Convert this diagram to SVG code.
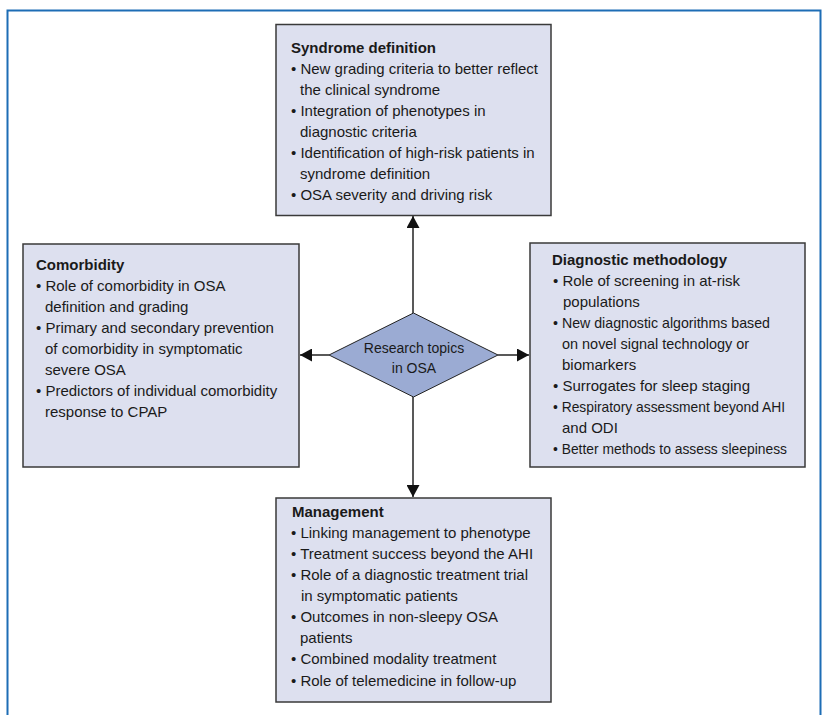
<svg xmlns="http://www.w3.org/2000/svg" width="822" height="715" viewBox="0 0 822 715">
<style>
.frame{fill:none;stroke:#1d6db5;stroke-width:2}
.box{fill:#dde0ef;stroke:#3a3a3a;stroke-width:1.5}
.dia{fill:#9babd3;stroke:#222;stroke-width:1}
.t{font-family:"Liberation Sans",Arial,sans-serif;font-size:15px;fill:#1a1a1a}
.h{font-weight:bold}
.c{font-family:"Liberation Sans",Arial,sans-serif;font-size:14px;fill:#1a1a1a;text-anchor:middle}
.con{stroke:#222;stroke-width:1.5;fill:none}
</style>
<defs>
<marker id="ah" viewBox="0 0 12 13" refX="12" refY="6.5" markerWidth="12" markerHeight="13" markerUnits="userSpaceOnUse" orient="auto">
<path d="M0,0 L12,6.5 L0,13 z" fill="#111"/>
</marker>
</defs>
<rect width="822" height="715" fill="#fff"/>
<path class="frame" d="M7.5,715 V10.5 H820.5 V715"/>

<g id="connectors">
<line class="con" x1="413" y1="313" x2="413" y2="216" marker-end="url(#ah)"/>
<line class="con" x1="413" y1="397" x2="413" y2="497" marker-end="url(#ah)"/>
<line class="con" x1="329" y1="355" x2="300" y2="355" marker-end="url(#ah)"/>
<line class="con" x1="498" y1="355" x2="529" y2="355" marker-end="url(#ah)"/>
</g>

<g id="syndrome">
<rect class="box" x="276" y="24.5" width="275" height="191"/>
<text class="t h" x="291" y="53">Syndrome definition</text>
<text class="t" x="291" y="74">• New grading criteria to better reflect</text>
<text class="t" x="300" y="95">the clinical syndrome</text>
<text class="t" x="291" y="116">• Integration of phenotypes in</text>
<text class="t" x="300" y="137">diagnostic criteria</text>
<text class="t" x="291" y="158">• Identification of high-risk patients in</text>
<text class="t" x="300" y="179">syndrome definition</text>
<text class="t" x="291" y="200">• OSA severity and driving risk</text>
</g>

<g id="comorbidity">
<rect class="box" x="23" y="244" width="276" height="223"/>
<text class="t h" x="36" y="270">Comorbidity</text>
<text class="t" x="36" y="291">• Role of comorbidity in OSA</text>
<text class="t" x="45" y="312">definition and grading</text>
<text class="t" x="36" y="333">• Primary and secondary prevention</text>
<text class="t" x="45" y="354">of comorbidity in symptomatic</text>
<text class="t" x="45" y="375">severe OSA</text>
<text class="t" x="36" y="396">• Predictors of individual comorbidity</text>
<text class="t" x="45" y="417">response to CPAP</text>
</g>

<g id="diagnostic">
<rect class="box" x="530" y="243" width="275" height="224"/>
<text class="t h" x="552" y="265">Diagnostic methodology</text>
<text class="t" x="553" y="286">• Role of screening in at-risk</text>
<text class="t" x="563" y="307">populations</text>
<text class="t" x="553" y="328" textLength="217" lengthAdjust="spacingAndGlyphs">• New diagnostic algorithms based</text>
<text class="t" x="562" y="349" textLength="187" lengthAdjust="spacingAndGlyphs">on novel signal technology or</text>
<text class="t" x="562" y="370">biomarkers</text>
<text class="t" x="553" y="391">• Surrogates for sleep staging</text>
<text class="t" x="553" y="412" textLength="232" lengthAdjust="spacingAndGlyphs">• Respiratory assessment beyond AHI</text>
<text class="t" x="562" y="433">and ODI</text>
<text class="t" x="553" y="454" textLength="234" lengthAdjust="spacingAndGlyphs">• Better methods to assess sleepiness</text>
</g>

<g id="management">
<rect class="box" x="276" y="498" width="275" height="204"/>
<text class="t h" x="292" y="517">Management</text>
<text class="t" x="291" y="538">• Linking management to phenotype</text>
<text class="t" x="291" y="559">• Treatment success beyond the AHI</text>
<text class="t" x="291" y="580">• Role of a diagnostic treatment trial</text>
<text class="t" x="301" y="601">in symptomatic patients</text>
<text class="t" x="291" y="622">• Outcomes in non-sleepy OSA</text>
<text class="t" x="300" y="643">patients</text>
<text class="t" x="291" y="664">• Combined modality treatment</text>
<text class="t" x="291" y="686">• Role of telemedicine in follow-up</text>
</g>

<g id="research">
<polygon class="dia" points="413.5,313 498,355 413.5,397 329,355"/>
<text class="c" x="414" y="353">Research topics</text>
<text class="c" x="414" y="373">in OSA</text>
</g>
</svg>
